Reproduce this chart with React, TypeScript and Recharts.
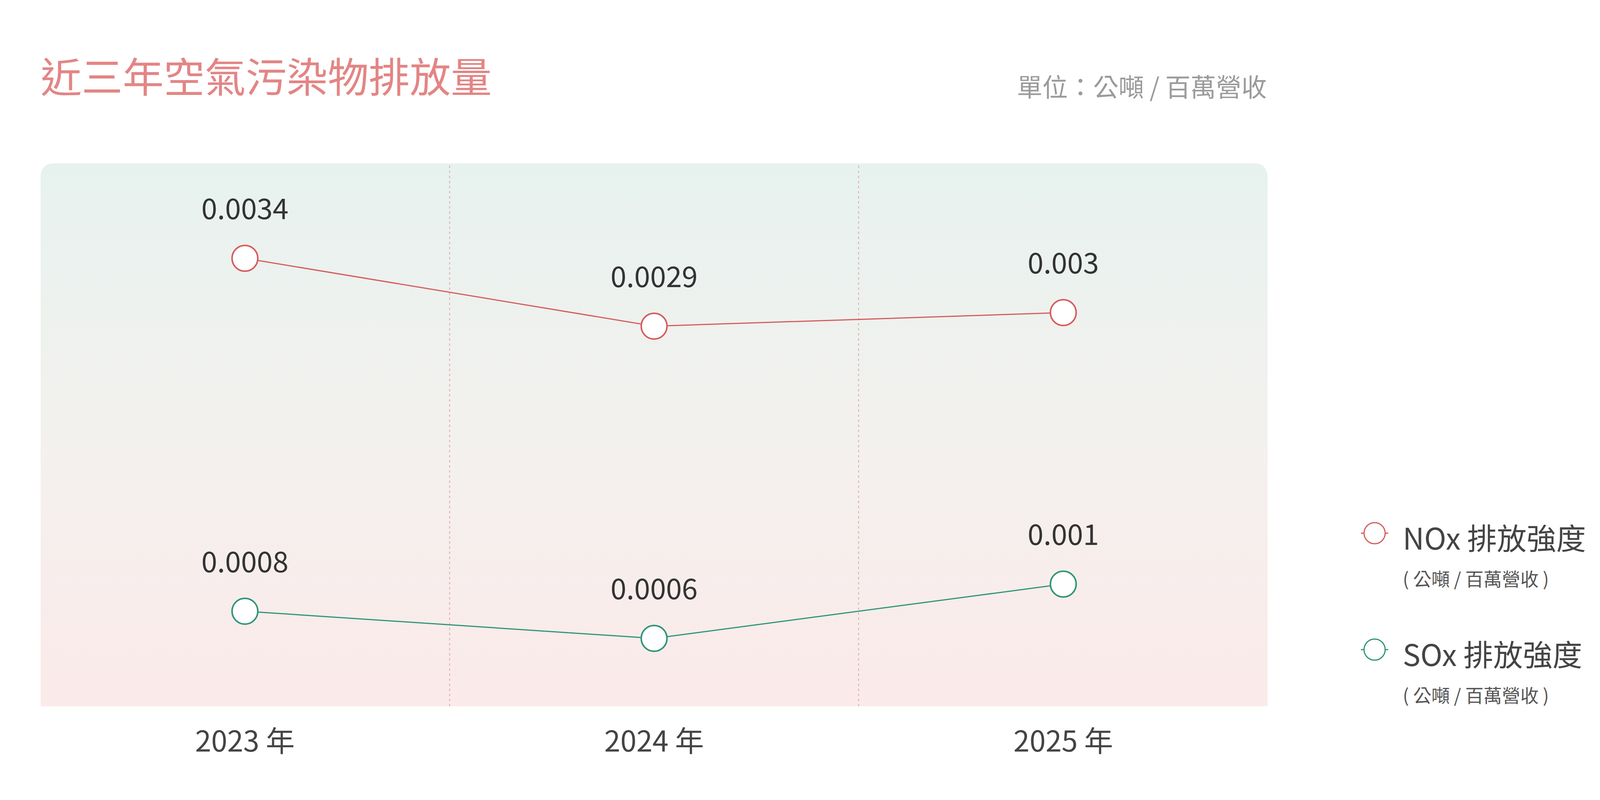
import React from 'react';
import { LineChart, Line, XAxis, YAxis, ReferenceArea, ReferenceLine, LabelList, Legend } from 'recharts';

const years = ['2023 年', '2024 年', '2025 年'];
const noxValues = [0.0034, 0.0029, 0.003];
const soxValues = [0.0008, 0.0006, 0.001];
const seriesNames = ['NOx 排放強度', 'SOx 排放強度'];
const legendSubLabel = '( 公噸 / 百萬營收 )';
const titleText = '近三年空氣污染物排放量';
const unitText = '單位：公噸 / 百萬營收';
const dividerPositions = [1, 2];
const gridDomain = [0, 3];
const yDomain = [0.0001, 0.0041];

const data = years.map((y, i) => ({ year: y, slot: i, nox: noxValues[i], sox: soxValues[i] }));

const FONT = "'Noto Sans CJK TC', 'Noto Sans', sans-serif";
const RED = '#d65c5c';
const GREEN = '#2f9478';

// the browser viewport is 4096 wide; horizontal layout is fitted to it
const W = 4096;
const H = 2048;

const BgShape = (props: any) => {
  const { x, y, width, height } = props;
  const r = 36;
  const d = `M${x},${y + height} L${x},${y + r} Q${x},${y} ${x + r},${y} L${x + width - r},${y} Q${x + width},${y} ${x + width},${y + r} L${x + width},${y + height} Z`;
  return <path d={d} fill="url(#bgGrad)" />;
};

const XTick = (props: any) => {
  const { x, y, payload } = props;
  return (
    <text x={x} y={y} dy={116} textAnchor="middle" fill="#444" fontSize={74} fontWeight={400} fontFamily={FONT}>
      {payload.value}
    </text>
  );
};

const renderLegend = (props: any) => {
  const { payload } = props;
  return (
    <svg width={620} height={560} style={{ display: 'block' }}>
      {(payload || []).map((entry: any, i: number) => {
        const cy = 65 + i * 298;
        const cx = 46;
        return (
          <g key={i}>
            <line x1={cx - 35} y1={cy} x2={cx + 35} y2={cy} stroke={entry.color} strokeWidth={3} />
            <circle cx={cx} cy={cy} r={27} fill="#fff" stroke={entry.color} strokeWidth={3} />
            <text x={118} y={cy + 42} fontSize={76} fontWeight={400} fill="#444" fontFamily={FONT}>
              {entry.value}
            </text>
            <text x={118} y={cy + 135} fontSize={47} fontWeight={400} fill="#555" fontFamily={FONT}>
              {legendSubLabel}
            </text>
          </g>
        );
      })}
    </svg>
  );
};

export default function App() {
  return (
    <div style={{ position: 'absolute', left: 0, top: 0, width: W, height: H, background: '#fff', overflow: 'hidden' }}>
      <svg width={W} height={320} style={{ position: 'absolute', left: 0, top: 0 }}>
        <text x={104} y={236} fontSize={105} fill="#e38585" fontFamily={FONT} fontWeight={400}>
          {titleText}
        </text>
        <text x={3243} y={247} fontSize={65} textAnchor="end" fill="#9b9b9b" fontFamily={FONT} fontWeight={400}>
          {unitText}
        </text>
      </svg>
      <div style={{ position: 'absolute', left: 0, top: 0 }}>
        <LineChart width={W} height={H} data={data} margin={{ top: 418, right: 851, bottom: 140, left: 104 }}>
          <defs>
            <linearGradient id="bgGrad" x1="0" y1="0" x2="0" y2="1">
              <stop offset="0%" stopColor="#e7f2ef" />
              <stop offset="50%" stopColor="#f3f1ee" />
              <stop offset="100%" stopColor="#fbeaea" />
            </linearGradient>
          </defs>
          <XAxis
            xAxisId="cat"
            dataKey="year"
            type="category"
            padding={{ left: 523, right: 523 }}
            axisLine={false}
            tickLine={false}
            tickSize={0}
            tickMargin={0}
            height={100}
            tick={<XTick />}
            interval={0}
          />
          <XAxis xAxisId="grid" dataKey="slot" type="number" domain={gridDomain} hide allowDataOverflow />
          <YAxis hide domain={yDomain} allowDataOverflow />
          <ReferenceArea
            xAxisId="grid"
            x1={gridDomain[0]}
            x2={gridDomain[1]}
            y1={yDomain[0]}
            y2={yDomain[1]}
            shape={<BgShape />}
            ifOverflow="visible"
          />
          {dividerPositions.map((p) => (
            <ReferenceLine
              key={p}
              xAxisId="grid"
              x={p}
              stroke="#dfb3b3"
              strokeWidth={2.5}
              strokeDasharray="6 7"
              ifOverflow="visible"
            />
          ))}
          <Line
            xAxisId="cat"
            type="linear"
            dataKey="nox"
            name={seriesNames[0]}
            stroke={RED}
            strokeWidth={3}
            dot={{ r: 33, fill: '#fff', stroke: RED, strokeWidth: 4 }}
            activeDot={false}
            isAnimationActive={false}
          >
            <LabelList dataKey="nox" position="top" offset={100} fill="#333" fontSize={73} fontWeight={400} fontFamily={FONT} />
          </Line>
          <Line
            xAxisId="cat"
            type="linear"
            dataKey="sox"
            name={seriesNames[1]}
            stroke={GREEN}
            strokeWidth={3}
            dot={{ r: 33, fill: '#fff', stroke: GREEN, strokeWidth: 4 }}
            activeDot={false}
            isAnimationActive={false}
          >
            <LabelList dataKey="sox" position="top" offset={100} fill="#333" fontSize={73} fontWeight={400} fontFamily={FONT} />
          </Line>
          <Legend
            layout="vertical"
            align="center"
            verticalAlign="middle"
            content={renderLegend}
            wrapperStyle={{ left: 3473, top: 1300, width: 620, height: 560 }}
          />
        </LineChart>
      </div>
    </div>
  );
}
